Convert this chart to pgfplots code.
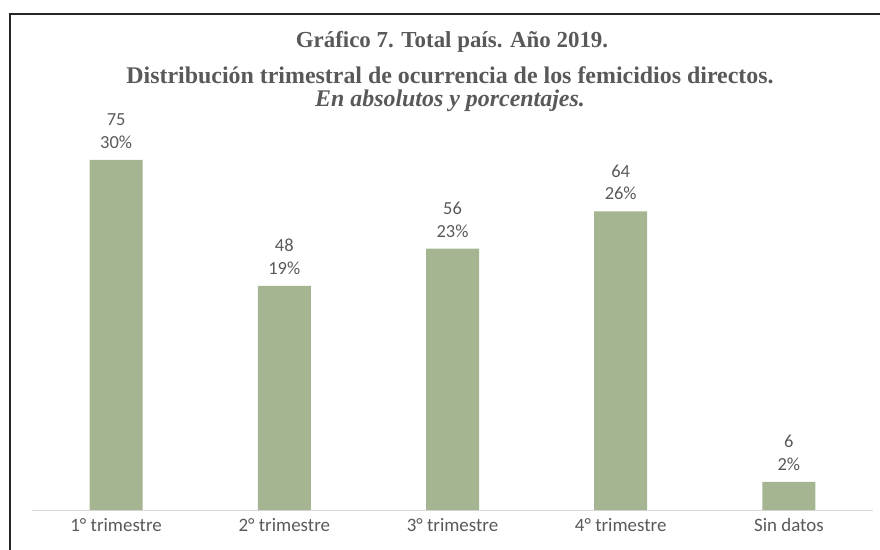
\documentclass[border=0pt]{standalone}
\usepackage{pgfplots}
\usepackage{pgfplotstable}
\usepackage{fontspec}
\pgfplotsset{compat=1.18}
\setmainfont{Liberation Serif}
\newfontfamily\calibri{Carlito}

\definecolor{barcol}{HTML}{A5B592}
\definecolor{txtgray}{HTML}{595959}
\definecolor{axgray}{HTML}{D9D9D9}

\pgfplotstableread{
x y pct
0 75 30
1 48 19
2 56 23
3 64 26
4 6 2
}\femicidios

\begin{document}
\begin{tikzpicture}
\path[use as bounding box] (-32bp,-40bp) rectangle (848bp,510bp);
\begin{axis}[
    at={(0,0)}, anchor=south west,
    scale only axis,
    width=841bp, height=350bp,
    xmin=-0.5, xmax=4.5,
    ymin=0, ymax=75,
    axis x line*=bottom,
    axis y line=none,
    x axis line style={axgray, line width=1bp, -},
    xtick=data,
    xticklabels={1° trimestre, 2° trimestre, 3° trimestre, 4° trimestre, Sin datos},
    major tick length=0pt,
    xticklabel style={font=\calibri\fontsize{19}{22}\selectfont, text=txtgray,
        anchor=north, inner sep=0pt, yshift=-8bp},
    ytick=\empty,
    clip=false,
    /pgf/number format/assume math mode=true,
]
\addplot[ybar, bar width=53bp, fill=barcol, draw=none,
    visualization depends on={\thisrow{pct} \as \pct},
    nodes near coords={\pgfmathprintnumber{\pgfplotspointmeta}\\\pgfmathprintnumber{\pct}\%},
    nodes near coords style={align=center, anchor=south, inner sep=0pt, yshift=11bp,
        font=\calibri\fontsize{18.5}{23}\selectfont, text=txtgray},
] table[x=x, y=y] {\femicidios};
\end{axis}

% marco (solo bordes superior e izquierdo visibles)
\draw[line width=2bp, black!85] (-22bp,-40bp) -- (-22bp,496bp) -- (848bp,496bp);

% titulo
\node[text=txtgray, font=\bfseries\fontsize{23}{26}\selectfont] at (420bp,468bp)
    {Gráfico 7. Total país. Año 2019.};
\node[text=txtgray, font=\bfseries\fontsize{24}{26}\selectfont] at (418bp,435bp)
    {Distribución trimestral de ocurrencia de los femicidios directos.};
\node[text=txtgray, font=\bfseries\itshape\fontsize{24}{26}\selectfont] at (418bp,409bp)
    {En absolutos y porcentajes.};
\end{tikzpicture}
\end{document}
